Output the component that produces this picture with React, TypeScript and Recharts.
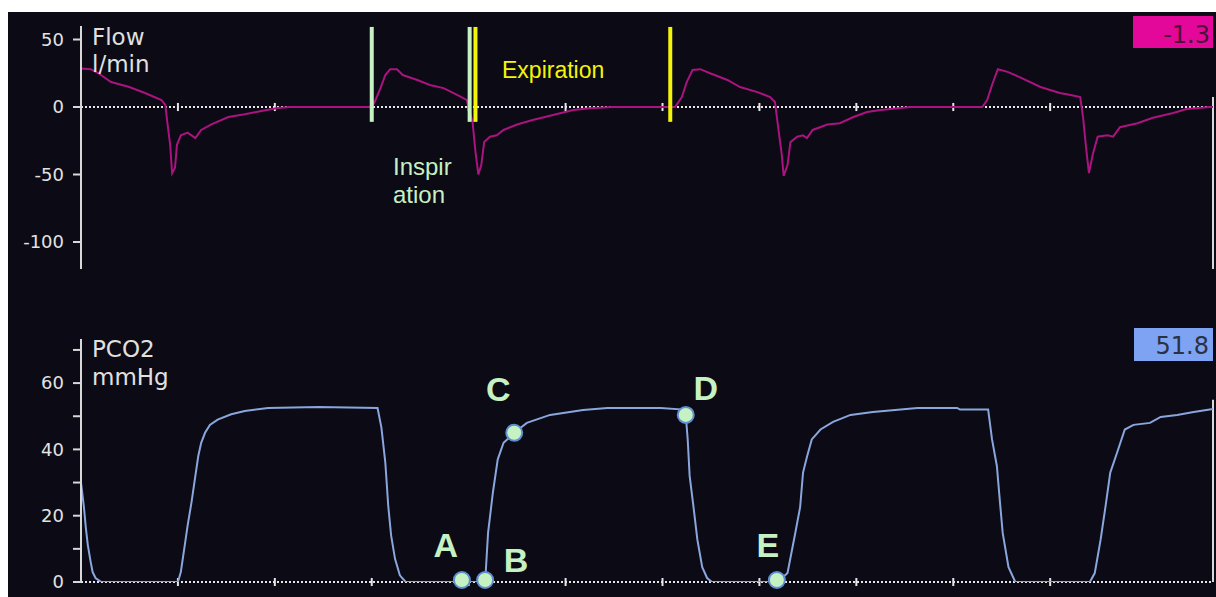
import { Line, LineChart, ReferenceDot, ReferenceLine, XAxis, YAxis } from 'recharts';

// time in seconds, one grid tick per second
const FLOW_T = [
  0, 0.1, 0.18, 0.31, 0.49, 0.66, 0.83, 0.87, 0.89, 0.92, 0.94, 0.97, 0.99, 1.03, 1.1, 1.18, 1.24, 1.34, 1.52, 1.69,
  1.86, 2.03, 2.16, 3.0, 3.03, 3.09, 3.14, 3.19, 3.26, 3.32, 3.47, 3.6, 3.74, 3.84, 3.98, 4.04, 4.07, 4.1, 4.13, 4.16,
  4.22, 4.29, 4.36, 4.5, 4.66, 4.87, 5.08, 5.25, 5.49, 6.13, 6.2, 6.25, 6.31, 6.39, 6.49, 6.67, 6.8, 6.98, 7.11, 7.16,
  7.19, 7.23, 7.25, 7.29, 7.32, 7.39, 7.45, 7.49, 7.55, 7.7, 7.83, 7.97, 8.11, 8.25, 8.56, 9.3, 9.35, 9.4, 9.46, 9.56,
  9.69, 9.9, 10.1, 10.21, 10.31, 10.34, 10.37, 10.4, 10.44, 10.49, 10.59, 10.65, 10.72, 10.9, 11.06, 11.27, 11.41,
  11.65, 11.68,
];
const FLOW_V = [
  28.5, 28, 25, 18.5, 15, 10.4, 5.2, 1.5, -11, -28, -49, -45, -28, -21, -19, -23, -17, -13, -7.4, -5.4,
  -3, -0.7, 0, 0, 3.7, 14, 23.7, 28, 28, 23.7, 20, 16.3, 14, 10.4, 5.2, -11, -33, -50, -43, -26,
  -22, -21, -17, -13, -9.6, -5.9, -2.2, -1, 0, 0, 7.4, 18.5, 27.4, 28, 25, 20, 14.8, 11, 7.4, 3.7,
  -13, -35, -51, -43, -26, -22, -21, -23, -17, -13, -12, -7.4, -3.7, -2.2, 0, 0, 5.2, 16.3, 28, 26,
  22, 14.8, 10.4, 8.9, 7.4, -8, -30, -49, -35, -22, -21, -22, -15, -12, -8, -4.4, -1.5,
  0, 0,
];

const CO2_T = [
  0, 0.03, 0.05, 0.07, 0.1, 0.12, 0.15, 0.21, 1.0, 1.03, 1.07, 1.1, 1.14, 1.18, 1.21, 1.24, 1.28, 1.33, 1.41, 1.55,
  1.69, 1.93, 2.45, 3.06, 3.1, 3.14, 3.17, 3.2, 3.24, 3.29, 3.35, 4.17, 4.2, 4.25, 4.3, 4.36, 4.47, 4.6, 4.84, 5.18,
  5.43, 5.98, 6.22, 6.24, 6.26, 6.28, 6.32, 6.36, 6.41, 6.46, 6.51, 7.19, 7.29, 7.37, 7.42, 7.45, 7.49, 7.54, 7.63,
  7.76, 7.94, 8.17, 8.63, 9.04, 9.07, 9.36, 9.4, 9.45, 9.48, 9.51, 9.57, 9.64, 10.41, 10.46, 10.52, 10.57, 10.62,
  10.69, 10.77, 10.86, 11.03, 11.14, 11.31, 11.48, 11.68,
];
const CO2_V = [
  30, 22.6, 16.3, 11.2, 6, 3, 1.2, 0, 0, 3, 11, 17, 24, 32, 38, 42, 45, 47.4, 49, 50.6,
  51.6, 52.5, 52.8, 52.5, 46.5, 36, 23, 14, 7, 2, 0, 0, 14.8, 27, 37, 42, 45, 48, 50.4, 51.9,
  52.5, 52.5, 52, 50.4, 43, 32, 22.6, 12.7, 4.5, 1.2, 0, 0, 2.7, 14.8, 22.6, 33, 37.7, 43, 46,
  48.3, 50.4, 51.3, 52.5, 52.5, 52, 52, 43, 35, 24.7, 14.8, 4.5, 0, 0, 2.7, 12.7, 22.6, 33,
  39, 46, 47.4, 48, 49.8, 50.4, 51.3, 52.2,
];

const TIME_TICKS = [1, 2, 3, 4, 5, 6, 7, 8, 9, 10];
const FLOW_TICKS = [-100, -50, 0, 50];
const CO2_TICKS = [0, 10, 20, 30, 40, 50, 60, 70];
const CO2_LABELED = [0, 20, 40, 60];

const INSPIRATION_MARKS = [3.0, 4.01];
const EXPIRATION_MARKS = [4.07, 6.08];

const CO2_POINTS = [
  { name: 'A', t: 3.93, v: 0.6 },
  { name: 'B', t: 4.17, v: 0.6 },
  { name: 'C', t: 4.47, v: 45 },
  { name: 'D', t: 6.24, v: 50.4 },
  { name: 'E', t: 7.18, v: 0.6 },
];

const FLOW_NOW = '-1.3';
const CO2_NOW = '51.8';
const SWEEP_T = 11.68;

const flowData = FLOW_T.map((t, i) => ({ t, v: FLOW_V[i] }));
const co2Data = CO2_T.map((t, i) => ({ t, v: CO2_V[i] }));

const BG = '#0b0a15';
const AXIS = '#d8d8d8';
const FLOW_COLOR = '#ab137f';
const CO2_COLOR = '#8aa6dc';
const GREEN = '#c6f1c3';
const YELLOW = '#f4f40a';
const tickStyle = { fill: '#e2e2e2', fontSize: 18, fontFamily: 'DejaVu Sans' };

// label offset from the dot centre (baseline of the letter)
const LABEL_OFFSET: Record<string, [number, number]> = {
  A: [-16, -23],
  B: [31, -8],
  C: [-16, -32],
  D: [20, -15],
  E: [-9, -23],
};

function MarkerDot(props: any) {
  const { cx, cy, name } = props;
  const [dx, dy] = LABEL_OFFSET[name] ?? [0, -20];
  return (
    <g>
      <circle cx={cx} cy={cy} r={8} fill={GREEN} stroke="#5f8fcf" strokeWidth={2} />
      <text
        x={cx + dx}
        y={cy + dy}
        textAnchor="middle"
        fill={GREEN}
        fontSize={34}
        fontWeight="bold"
        fontFamily="Liberation Sans, Arial, sans-serif"
      >
        {name}
      </text>
    </g>
  );
}

export default function App() {
  return (
    <div
      style={{
        position: 'absolute',
        left: 8,
        top: 12,
        width: 1208,
        height: 585,
        background: BG,
        overflow: 'hidden',
      }}
    >
      <div style={{ position: 'absolute', left: 0, top: 0 }}>
        <LineChart width={1208} height={300} data={flowData} margin={{ top: 14, right: 3, left: 0, bottom: 43 }}>
          <XAxis type="number" dataKey="t" domain={[0, SWEEP_T]} hide allowDataOverflow />
          <YAxis
            type="number"
            domain={[-120, 60]}
            ticks={FLOW_TICKS}
            interval={0}
            width={73}
            tickSize={8}
            tickMargin={9}
            axisLine={{ stroke: AXIS, strokeWidth: 2 }}
            tickLine={{ stroke: AXIS, strokeWidth: 2 }}
            tick={tickStyle}
            allowDataOverflow
          />
          <ReferenceLine y={0} stroke="#e6e6e6" strokeWidth={2} strokeDasharray="2 2" />
          {TIME_TICKS.map((t) => (
            <ReferenceLine
              key={`ft${t}`}
              segment={[{ x: t, y: -3 }, { x: t, y: 3 }]}
              stroke="#e6e6e6"
              strokeWidth={2}
              ifOverflow="visible"
            />
          ))}
          <ReferenceLine
            segment={[{ x: SWEEP_T, y: -120 }, { x: SWEEP_T, y: 7.4 }]}
            stroke={AXIS}
            strokeWidth={2}
            ifOverflow="visible"
          />
          <Line
            dataKey="v"
            type="linear"
            stroke={FLOW_COLOR}
            strokeWidth={2}
            dot={false}
            isAnimationActive={false}
          />
          {INSPIRATION_MARKS.map((t) => (
            <ReferenceLine
              key={`in${t}`}
              segment={[{ x: t, y: -11 }, { x: t, y: 59.3 }]}
              stroke={GREEN}
              strokeWidth={4}
              ifOverflow="visible"
            />
          ))}
          {EXPIRATION_MARKS.map((t) => (
            <ReferenceLine
              key={`ex${t}`}
              segment={[{ x: t, y: -11 }, { x: t, y: 59.3 }]}
              stroke={YELLOW}
              strokeWidth={4}
              ifOverflow="visible"
            />
          ))}
        </LineChart>
      </div>

      <div style={{ position: 'absolute', left: 0, top: 300 }}>
        <LineChart width={1208} height={285} data={co2Data} margin={{ top: 27, right: 3, left: 0, bottom: 15 }}>
          <XAxis type="number" dataKey="t" domain={[0, SWEEP_T]} hide allowDataOverflow />
          <YAxis
            type="number"
            domain={[0, 73.3]}
            ticks={CO2_TICKS}
            interval={0}
            width={73}
            tickSize={8}
            tickMargin={9}
            axisLine={{ stroke: AXIS, strokeWidth: 2 }}
            tickLine={{ stroke: AXIS, strokeWidth: 2 }}
            tick={tickStyle}
            tickFormatter={(v: number) => (CO2_LABELED.includes(v) ? `${v}` : '')}
            allowDataOverflow
          />
          <ReferenceLine y={0} stroke="#e6e6e6" strokeWidth={2} strokeDasharray="2 2" ifOverflow="visible" />
          {TIME_TICKS.map((t) => (
            <ReferenceLine
              key={`ct${t}`}
              segment={[{ x: t, y: -1.2 }, { x: t, y: 1.2 }]}
              stroke="#e6e6e6"
              strokeWidth={2}
              ifOverflow="visible"
            />
          ))}
          <ReferenceLine
            segment={[{ x: SWEEP_T, y: 0 }, { x: SWEEP_T, y: 55 }]}
            stroke={AXIS}
            strokeWidth={2}
            ifOverflow="visible"
          />
          <Line
            dataKey="v"
            type="linear"
            stroke={CO2_COLOR}
            strokeWidth={2}
            dot={false}
            isAnimationActive={false}
          />
          {CO2_POINTS.map((p) => (
            <ReferenceDot
              key={p.name}
              x={p.t}
              y={p.v}
              r={8}
              ifOverflow="visible"
              shape={(props: any) => <MarkerDot {...props} name={p.name} />}
            />
          ))}
        </LineChart>
      </div>

      <svg
        width={1208}
        height={585}
        style={{ position: 'absolute', left: 0, top: 0, pointerEvents: 'none' }}
        fontFamily="DejaVu Sans"
      >
        <g fill="#e0e0e0" fontSize={23}>
          <text x={84} y={33}>Flow</text>
          <text x={84} y={60}>l/min</text>
          <text x={84} y={345}>PCO2</text>
          <text x={84} y={373}>mmHg</text>
        </g>
        <g fontFamily="Liberation Sans, Arial, sans-serif">
          <text x={494} y={66} fill={YELLOW} fontSize={23}>Expiration</text>
          <text x={385} y={163} fill={GREEN} fontSize={24}>Inspir</text>
          <text x={385} y={191} fill={GREEN} fontSize={24}>ation</text>
        </g>
        <rect x={1125} y={4} width={80} height={32} fill="#e3079a" />
        <text x={1202} y={31} textAnchor="end" fontSize={24} fill="#4c1038">{FLOW_NOW}</text>
        <rect x={1126} y={316} width={79} height={33} fill="#7ea3f2" />
        <text x={1201} y={342} textAnchor="end" fontSize={24} fill="#2a3142">{CO2_NOW}</text>
      </svg>
    </div>
  );
}
